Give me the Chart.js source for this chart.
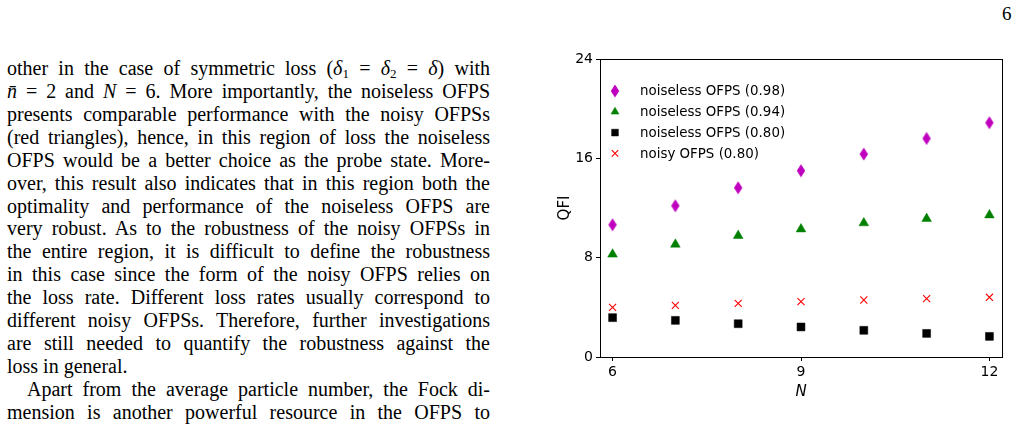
<!DOCTYPE html>
<html>
<head>
<meta charset="utf-8">
<script src="https://cdn.jsdelivr.net/npm/chart.js@4/dist/chart.umd.min.js"></script>
<style>
  body { margin: 0; background: #fff; width: 1029px; height: 427px; overflow: hidden; position: relative; }
  #text { position: absolute; left: 7px; top: 57px; width: 483px; font-family: "Liberation Serif", serif; font-size: 20px; line-height: 22.93px; color: #000; }
  #text div { text-align: justify; text-align-last: justify; white-space: nowrap; height: 22.93px; }
  #text div.last { text-align-last: left; }
  #text div.indent { padding-left: 20px; }
  #text sub { font-size: 13px; vertical-align: -3px; line-height: 0; }
  #pagenum { position: absolute; left: 1002px; top: 3px; font-family: "Liberation Serif", serif; font-size: 19px; }
  #chart-box { position: absolute; left: 540px; top: 40px; width: 489px; height: 370px; }
</style>
</head>
<body>
<div id="pagenum">6</div>
<div id="text">
  <div>other in the case of symmetric loss (<i>δ</i><sub>1</sub> = <i>δ</i><sub>2</sub> = <i>δ</i>) with</div>
  <div><i>n̄</i> = 2 and <i>N</i> = 6. More importantly, the noiseless OFPS</div>
  <div>presents comparable performance with the noisy OFPSs</div>
  <div>(red triangles), hence, in this region of loss the noiseless</div>
  <div>OFPS would be a better choice as the probe state. More-</div>
  <div>over, this result also indicates that in this region both the</div>
  <div>optimality and performance of the noiseless OFPS are</div>
  <div>very robust. As to the robustness of the noisy OFPSs in</div>
  <div>the entire region, it is difficult to define the robustness</div>
  <div>in this case since the form of the noisy OFPS relies on</div>
  <div>the loss rate. Different loss rates usually correspond to</div>
  <div>different noisy OFPSs. Therefore, further investigations</div>
  <div>are still needed to quantify the robustness against the</div>
  <div class="last">loss in general.</div>
  <div class="indent">Apart from the average particle number, the Fock di-</div>
  <div>mension is another powerful resource in the OFPS to</div>
</div>
<div id="chart-box"><canvas id="qfi-chart"></canvas></div>

<script>
// Fock dimension N
const nValues = [6, 7, 8, 9, 10, 11, 12];

// QFI values
const qfiNoiseless098 = [10.65, 12.18, 13.63, 15.0, 16.34, 17.6, 18.87];
const qfiNoiseless094 = [8.27, 9.07, 9.77, 10.3, 10.79, 11.14, 11.43];
const qfiNoiseless080 = [3.17, 2.95, 2.68, 2.42, 2.15, 1.9, 1.66];
const qfiNoisy080 = [4.0, 4.16, 4.32, 4.46, 4.59, 4.7, 4.81];

const seriesLabels = ['noiseless OFPS (0.98)', 'noiseless OFPS (0.94)', 'noiseless OFPS (0.80)', 'noisy OFPS (0.80)'];

const xTicks = [6, 9, 12];
const yTicks = [0, 8, 16, 24];

const tickFont = { family: 'DejaVu Sans', size: 14 };

// matplotlib-like thin diamond marker
function thinDiamond(color) {
    let c = document.createElement('canvas');
    c.width = 10;
    c.height = 14;
    let ctx = c.getContext('2d');
    ctx.fillStyle = color;
    ctx.beginPath();
    ctx.moveTo(5, 0.5);
    ctx.lineTo(9.2, 7);
    ctx.lineTo(5, 13.5);
    ctx.lineTo(0.8, 7);
    ctx.closePath();
    ctx.fill();
    return c;
}

function toPoints(values) {
    return nValues.map((n, i) => ({ x: n, y: values[i] }));
}

// Frame on top and right like matplotlib axes
const framePlugin = {
    id: 'frame',
    afterDraw(chart) {
        const { ctx, chartArea: a } = chart;
        ctx.save();
        ctx.strokeStyle = '#000';
        ctx.lineWidth = 1;
        ctx.strokeRect(Math.round(a.left) + 0.5, Math.round(a.top) + 0.5,
            Math.round(a.right - a.left), Math.round(a.bottom - a.top));
        ctx.restore();
    }
};

// Legend drawn inside the plot, top-left
const innerLegend = {
    id: 'innerLegend',
    afterDraw(chart) {
        const { ctx, chartArea: a } = chart;
        ctx.save();
        ctx.font = '13.4px "DejaVu Sans"';
        ctx.textBaseline = 'middle';
        chart.data.datasets.forEach((ds, i) => {
            let y = a.top + 32 + i * 20.8;
            let x = a.left + 15;
            ctx.fillStyle = ds.backgroundColor;
            ctx.strokeStyle = ds.borderColor;
            ctx.lineWidth = ds.borderWidth;
            Chart.helpers.drawPoint(ctx, {
                pointStyle: ds.pointStyle,
                radius: ds.legendRadius,
                rotation: 0,
                borderWidth: ds.borderWidth
            }, x, y);
            ctx.fillStyle = '#000';
            ctx.fillText(ds.label, a.left + 40, y + 1);
        });
        ctx.restore();
    }
};

let qfiChart = new Chart(document.getElementById('qfi-chart'), {
    type: 'scatter',
    data: {
        datasets: [
            {
                label: seriesLabels[0],
                data: toPoints(qfiNoiseless098),
                pointStyle: thinDiamond('#bf00bf'),
                backgroundColor: '#bf00bf',
                borderColor: '#bf00bf',
                borderWidth: 0,
                pointRadius: 6,
                legendRadius: 6
            },
            {
                label: seriesLabels[1],
                data: toPoints(qfiNoiseless094),
                pointStyle: 'triangle',
                backgroundColor: '#008000',
                borderColor: '#008000',
                borderWidth: 0.5,
                pointRadius: 5.6,
                legendRadius: 4.6
            },
            {
                label: seriesLabels[2],
                data: toPoints(qfiNoiseless080),
                pointStyle: 'rect',
                backgroundColor: '#000',
                borderColor: '#000',
                borderWidth: 0.5,
                pointRadius: 5.6,
                legendRadius: 4.8
            },
            {
                label: seriesLabels[3],
                data: toPoints(qfiNoisy080),
                pointStyle: 'crossRot',
                backgroundColor: '#ff0000',
                borderColor: '#ff0000',
                borderWidth: 1.1,
                pointRadius: 5,
                legendRadius: 4.6
            }
        ]
    },
    options: {
        responsive: true,
        maintainAspectRatio: false,
        animation: false,
        layout: { padding: { top: 19, right: 27, left: 0, bottom: 0 } },
        plugins: {
            legend: { display: false },
            tooltip: { enabled: false }
        },
        scales: {
            x: {
                type: 'linear',
                min: 5.8,
                max: 12.2,
                afterBuildTicks: s => { s.ticks = xTicks.map(v => ({ value: v })); },
                afterFit: s => { s.height = 53; },
                grid: { drawOnChartArea: false, drawTicks: true, tickLength: 4, color: '#000' },
                border: { display: true, color: '#000', width: 1 },
                ticks: { color: '#000', font: tickFont, padding: 3, maxRotation: 0 },
                title: {
                    display: true, text: 'N', color: '#000',
                    font: { family: 'DejaVu Sans', size: 15, style: 'italic' },
                    padding: { top: 0, bottom: 9 }
                }
            },
            y: {
                min: 0,
                max: 24,
                afterBuildTicks: s => { s.ticks = yTicks.map(v => ({ value: v })); },
                afterFit: s => { s.width = 60; },
                grid: { drawOnChartArea: false, drawTicks: true, tickLength: 4, color: '#000' },
                border: { display: true, color: '#000', width: 1 },
                ticks: { color: '#000', font: tickFont, padding: 3 },
                title: {
                    display: true, text: 'QFI', color: '#000',
                    font: { family: 'DejaVu Sans', size: 15 },
                    padding: { top: 16, bottom: 0 }
                }
            }
        }
    },
    plugins: [framePlugin, innerLegend]
});
</script>
</body>
</html>
